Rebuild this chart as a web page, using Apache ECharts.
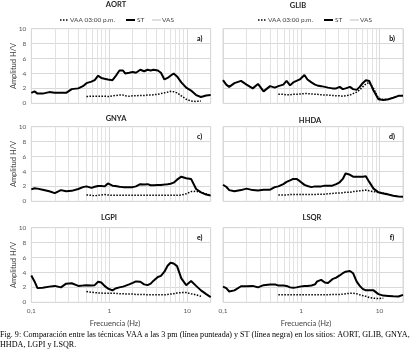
<!DOCTYPE html>
<html><head><meta charset="utf-8">
<script src="https://cdn.jsdelivr.net/npm/echarts@6/dist/echarts.min.js"></script>
<style>html,body{margin:0;padding:0;background:#fff}#c{width:414px;height:355px}</style>
</head><body><div id="c"></div><script>
// Frequencies (Hz) at which the curves were read
const freq=[0.10,0.11,0.12,0.14,0.17,0.20,0.24,0.28,0.33,0.40,0.46,0.51,0.59,0.65,0.72,0.79,0.87,0.96,1.1,1.2,1.35,1.5,1.6,1.8,2.0,2.2,2.5,2.8,3.1,3.4,3.7,4.2,4.6,5.1,5.6,6.1,6.7,7.4,8.4,9.7,11.2,13,15,17.5,20];
const N=null;
const aortST=[1.4,1.6,1.3,1.3,1.5, 1.4,1.4,1.4,1.9,2.0, 2.3,2.7,2.9,3.1,3.7, 3.4,3.3,3.2,3.1,3.6, 4.4,4.4,4.0,4.1,4.2, 4.1,4.5,4.3,4.5,4.4, 4.5,4.4,4.1,3.2,3.4, 3.7,4.0,3.6,2.8,2.1, 1.7,1.1,0.85,1.05,1.1];
const aortVAA=[N,N,N,N,N, N,N,N,N,N, N,0.9,0.95,0.95,0.95, 0.95,0.95,0.9,1.0,1.05, 1.1,1.1,1.0,0.95,1.0, 1.0,1.05,1.05,1.1,1.1, 1.15,1.2,1.3,1.4,1.5, 1.6,1.55,1.4,1.0,0.55, 0.3,0.25,0.3,N,N];
const glibST=[3.1,2.5,2.2,2.7,3.0, 2.5,2.0,2.6,1.6,2.3, 2.1,2.3,2.5,3.0,2.4, 2.8,3.0,3.2,3.8,3.2, 2.8,2.5,2.4,2.3,2.2, 2.1,2.0,2.0,2.2,1.9, 2.0,2.2,1.9,1.8,2.2, 2.7,3.1,3.0,1.7,0.55, 0.45,0.55,0.75,1.0,1.0];
const glibVAA=[N,N,N,N,N, N,N,N,N,N, N,1.2,1.2,1.15,1.15, 1.2,1.2,1.25,1.3,1.3, 1.25,1.2,1.2,1.15,1.1, 1.1,1.05,1.0,1.0,0.95, 1.0,1.1,1.3,1.5,1.8, 2.2,2.6,2.8,2.0,0.7, 0.5,0.5,N,N,N];
const gnyaST=[1.6,1.75,1.7,1.55,1.35, 1.1,1.5,1.35,1.4,1.65, 1.9,2.0,1.8,1.95,2.05, 2.05,2.0,2.4,2.1,2.05, 1.95,1.9,1.9,1.9,1.9, 2.0,2.3,2.25,2.3,2.15, 2.15,2.2,2.2,2.25,2.3, 2.35,2.5,2.9,3.3,3.1, 3.0,1.65,1.2,0.9,0.76];
const gnyaVAA=[N,N,N,N,N, N,N,N,N,N, N,0.85,0.8,0.75,0.8, 0.85,0.9,0.85,0.8,0.8, 0.8,0.8,0.8,0.8,0.8, 0.8,0.8,0.8,0.8,0.8, 0.8,0.8,0.8,0.8,0.8, 0.8,0.8,0.8,0.85,1.0, 1.3,1.35,1.2,1.0,0.8];
const hhdaST=[2.2,1.95,1.5,1.35,1.5, 1.7,1.5,1.45,1.55,1.55, 1.9,2.0,2.3,2.6,2.8, 3.0,3.0,2.7,2.2,2.05, 1.9,2.0,1.97,2.0,2.1, 2.08,2.1,2.3,2.55,3.0, 3.75,3.55,3.3,3.3,3.3, 3.3,3.35,2.6,1.7,1.2, 1.05,0.9,0.75,0.65,0.62];
const hhdaVAA=[N,N,N,N,N, N,N,N,N,N, N,0.85,0.85,0.85,0.9, 0.9,0.9,0.9,0.9,0.9, 0.9,0.9,0.95,0.95,0.95, 1.0,1.05,1.1,1.1,1.15, 1.2,1.2,1.3,1.35,1.4, 1.45,1.5,1.4,1.3,1.2, 1.1,1.0,N,N,N];
const lgpiST=[3.6,2.8,1.9,1.95,2.1, 2.2,2.0,2.5,2.55,2.2, 2.25,2.3,2.25,2.3,2.75, 2.65,2.2,1.85,1.6,1.85, 2.0,2.1,2.2,2.4,2.6, 2.8,2.75,2.4,2.3,2.5, 2.9,3.4,3.55,4.1,4.9, 5.3,5.2,4.85,3.2,2.3, 2.85,2.2,1.6,1.1,0.7];
const lgpiVAA=[N,N,N,N,N, N,N,N,N,N, N,1.45,1.35,1.3,1.25, 1.25,1.2,1.2,1.2,1.2, 1.15,1.15,1.1,1.1,1.1, 1.05,1.05,1.05,1.0,1.0, 1.0,1.0,1.0,1.0,1.05, 1.1,1.15,1.25,1.3,1.3, 1.15,1.0,0.8,N,N];
const lsqrST=[2.1,1.9,1.45,1.6,2.15, 2.15,2.2,2.0,2.3,2.4, 2.4,2.25,2.25,2.2,2.0, 1.95,2.0,2.1,2.2,2.2, 2.25,2.4,2.8,3.0,2.65, 2.6,3.1,3.3,3.6,3.9, 4.1,4.2,3.9,2.8,2.2, 1.8,1.6,1.6,1.6,1.1, 0.9,0.85,0.8,0.78,1.0];
const lsqrVAA=[N,N,N,N,N, N,N,N,N,N, N,1.0,1.0,1.0,1.0, 1.0,1.0,1.0,1.0,1.0, 1.0,1.0,1.0,1.0,1.0, 1.0,1.05,1.05,1.05,1.1, 1.15,1.2,1.2,1.15,1.0, 0.9,0.8,0.65,0.55,0.5, 0.55,N,N,N,N];

const siteNames=['AORT','GLIB','GNYA','HHDA','LGPI','LSQR'];
const panelLetters=['a)','b)','c)','d)','e)','f)'];
const stData=[aortST,glibST,gnyaST,hhdaST,lgpiST,lsqrST];
const vaaData=[aortVAA,glibVAA,gnyaVAA,hhdaVAA,lgpiVAA,lsqrVAA];
const seriesNames=['VAA 03:00 p.m.','ST','VAS'];
const xTickLabels=[[0.1,'0,1'],[1,'1'],[10,'10']];
const minorGridFreq=[0.2,0.3,0.4,0.5,0.6,0.7,0.8,0.9,2,3,4,5,6,7,8,9];
const xAxisTitle='Frecuencia (Hz)';
const yAxisTitle='Amplitud H/V';
const caption1='Fig. 9: Comparación entre las técnicas VAA a las 3 pm (línea punteada) y ST (línea negra) en los sitios: AORT, GLIB, GNYA,';
const caption2='HHDA, LGPI y LSQR.';

// layout
const colLeft=[31.3,223],colWidth=[179.4,180],rowTop=[28.7,126.7,227.7],rowH=74.6;
const titleX=[116,298,116,310,109,312],titleY=[5,6,119,120.5,217.5,218];
const FONT='Lato, "Liberation Sans", sans-serif';
const SERIF='"Liberation Serif", "DejaVu Serif", serif';
const GRID='#d9d9d9',MINOR='#e2e2e2';

function pairs(arr){return freq.map((f,i)=>arr[i]==null?null:[f,arr[i]]).filter(Boolean);}
function fmtX(v){for(const [t,l] of xTickLabels){if(Math.abs(v-t)/t<1e-6)return l;}return '';}

const grids=[],xAxes=[],yAxes=[],series=[],graphics=[];
for(let i=0;i<6;i++){
  const c=i%2,r=Math.floor(i/2);
  grids.push({left:colLeft[c],top:rowTop[r],width:colWidth[c],height:rowH,show:true,borderColor:GRID,borderWidth:1,containLabel:false});
  xAxes.push({type:'log',logBase:10,min:0.1,max:20,gridIndex:i,
    axisLine:{show:false},axisTick:{show:false},
    splitLine:{show:true,lineStyle:{color:GRID,width:1}},
    axisLabel:{show:r===2,formatter:fmtX,fontSize:6.5,color:'#595959',fontFamily:FONT,margin:5}});
  yAxes.push({type:'value',min:0,max:10,interval:2,gridIndex:i,
    axisLine:{show:false},axisTick:{show:false},
    splitLine:{show:true,lineStyle:{color:GRID,width:1}},
    axisLabel:{show:c===0,fontSize:6.5,color:'#595959',fontFamily:FONT,margin:5},
    name:c===0?yAxisTitle:'',nameLocation:'middle',nameGap:14,nameRotate:90,nameMoveOverlap:false,
    nameTextStyle:{fontSize:7.5,color:'#404040',fontFamily:FONT}});
  // minor log grid lines (2..9 of each decade), drawn via markLine on an empty helper series
  series.push({name:'minorGrid',type:'line',xAxisIndex:i,yAxisIndex:i,data:[],symbol:'none',z:1,silent:true,
    lineStyle:{color:MINOR,width:1},itemStyle:{color:MINOR},
    markLine:{silent:true,z:1,symbol:['none','none'],label:{show:false},animation:false,
      lineStyle:{color:MINOR,type:'solid',width:1,opacity:1},itemStyle:{color:MINOR},emphasis:{disabled:true},
      data:minorGridFreq.map(f=>({xAxis:f,lineStyle:{color:MINOR}}))}});
  series.push({name:seriesNames[2],type:'line',xAxisIndex:i,yAxisIndex:i,data:[],symbol:'none',z:2,
    lineStyle:{color:'#bfbfbf',width:1},itemStyle:{color:'#bfbfbf'}});
  series.push({name:seriesNames[0],type:'line',xAxisIndex:i,yAxisIndex:i,data:pairs(vaaData[i]),symbol:'none',showSymbol:false,z:3,
    lineStyle:{color:'#000',width:1.5,type:[1.5,1.5]},itemStyle:{color:'#000'},emphasis:{disabled:true}});
  series.push({name:seriesNames[1],type:'line',xAxisIndex:i,yAxisIndex:i,data:pairs(stData[i]),symbol:'none',showSymbol:false,z:4,
    lineStyle:{color:'#000',width:2},itemStyle:{color:'#000'},emphasis:{disabled:true}});
  graphics.push({type:'text',x:titleX[i],y:titleY[i],style:{text:siteNames[i],fontSize:7.5,fontWeight:'bold',fontFamily:FONT,fill:'#262626',align:'center',verticalAlign:'middle'}});
  graphics.push({type:'text',x:colLeft[c]+colWidth[c]-11,y:rowTop[r]+10.5,style:{text:panelLetters[i],fontSize:7,fontWeight:'bold',fontFamily:FONT,fill:'#000',align:'center',verticalAlign:'middle'}});
}
// legends (drawn as graphics to match the Excel-style icons)
const legendStyles=[{dash:[1.5,1.5],w:1.5,color:'#000'},{dash:null,w:2,color:'#000'},{dash:null,w:1,color:'#bfbfbf'}];
const legendIconX=[60,126,152],legendTextX=[70,137,162],legendY=20;
[0,198].forEach(off=>{
  for(let k=0;k<3;k++){
    const s=legendStyles[k];
    graphics.push({type:'line',shape:{x1:off+legendIconX[k],y1:legendY,x2:off+legendIconX[k]+9,y2:legendY},
      style:{stroke:s.color,lineWidth:s.w,lineDash:s.dash}});
    graphics.push({type:'text',x:off+legendTextX[k],y:legendY,style:{text:seriesNames[k],fontSize:6.5,fontFamily:FONT,fill:'#404040',align:'left',verticalAlign:'middle'}});
  }
});
graphics.push({type:'text',x:115,y:323.5,style:{text:xAxisTitle,fontSize:7.5,fontFamily:FONT,fill:'#404040',align:'center',verticalAlign:'middle'}});
graphics.push({type:'text',x:306,y:323.5,style:{text:xAxisTitle,fontSize:7.5,fontFamily:FONT,fill:'#404040',align:'center',verticalAlign:'middle'}});
graphics.push({type:'text',x:0,y:335,style:{text:caption1,fontSize:8.1,fontFamily:SERIF,fill:'#000',align:'left',verticalAlign:'middle'}});
graphics.push({type:'text',x:0,y:345,style:{text:caption2,fontSize:8.1,fontFamily:SERIF,fill:'#000',align:'left',verticalAlign:'middle'}});

const chart=echarts.init(document.getElementById('c'),null,{renderer:'canvas'});
chart.setOption({
  animation:false,
  backgroundColor:'#fff',
  grid:grids,xAxis:xAxes,yAxis:yAxes,series:series,
  graphic:graphics
});
</script></body></html>
